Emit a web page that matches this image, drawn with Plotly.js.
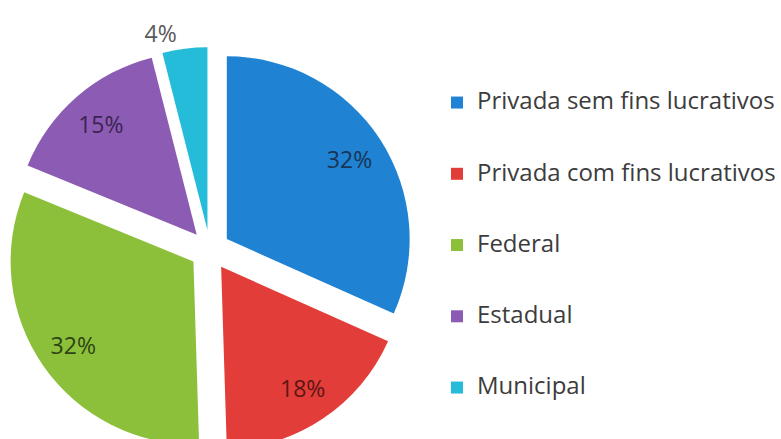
<!DOCTYPE html>
<html>
<head>
<meta charset="utf-8">
<script src="https://cdn.plot.ly/plotly-3.0.1.min.js"></script>
<style>html,body{margin:0;padding:0;background:#fff;overflow:hidden;width:781px;height:439px}</style>
</head>
<body>
<div id="chart" style="width:781px;height:480px"></div>
<script>
const categories = ['Privada sem fins lucrativos', 'Privada com fins lucrativos', 'Federal', 'Estadual', 'Municipal'];
const values = [32, 18, 32, 15, 4];
const colors = ['#1f82d2', '#e23d38', '#8cc03b', '#8c5cb4', '#24bcd8'];
const labelColors = ['#1a3556', '#5c1614', '#2f4414', '#3b2352', '#5a5a5a'];
const pulls = [0.11, 0.11, 0.11, 0.11, 0.11];

const domain = {x: [0.009, 0.530], y: [0.0552, 0.903]};
const legendLabels = categories.map(c => ' <br><span style="font-size:24px">' + c + '</span><br> ');

const base = {
  type: 'pie',
  values: values,
  labels: legendLabels,
  sort: false,
  direction: 'clockwise',
  rotation: 0,
  pull: pulls,
  domain: domain,
  hoverinfo: 'skip'
};

const pieFill = Object.assign({}, base, {
  marker: {colors: colors, line: {width: 0}},
  textinfo: 'none',
  showlegend: true
});

const pieText = Object.assign({}, base, {
  hole: 0.6,
  marker: {colors: ['rgba(0,0,0,0)','rgba(0,0,0,0)','rgba(0,0,0,0)','rgba(0,0,0,0)','rgba(0,0,0,0)'], line: {width: 0}},
  texttemplate: '%{value}%',
  textposition: ['inside','inside','inside','inside','outside'],
  insidetextorientation: 'horizontal',
  textfont: {family: 'Open Sans, sans-serif', size: 23, color: labelColors},
  showlegend: false
});

const layout = {
  width: 781, height: 480,
  margin: {l: 0, r: 0, t: 0, b: 0},
  paper_bgcolor: '#ffffff',
  font: {family: 'Open Sans, sans-serif', color: '#3c3c3c'},
  showlegend: true,
  legend: {
    x: 0.561, y: 0.871, xanchor: 'left', yanchor: 'top',
    font: {size: 17.5, color: '#3c3c3c'},
    bgcolor: 'rgba(0,0,0,0)',
    traceorder: 'normal'
  }
};

Plotly.newPlot('chart', [pieFill, pieText], layout, {displayModeBar: false, staticPlot: true});
</script>
</body>
</html>
